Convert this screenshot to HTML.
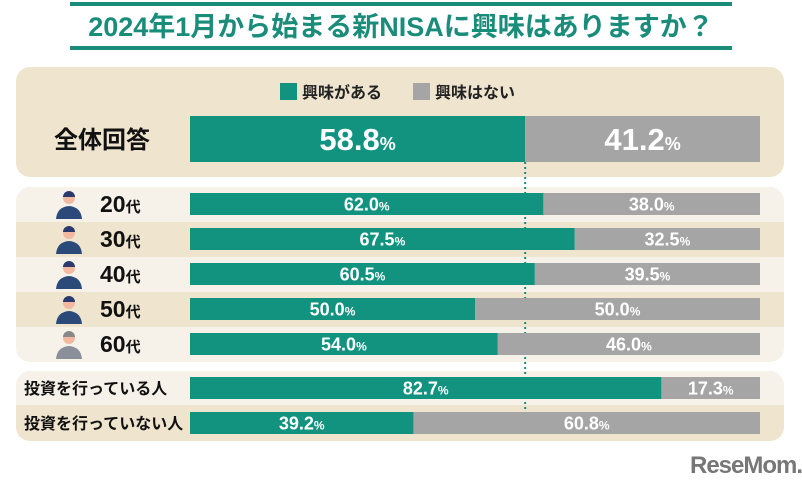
<!DOCTYPE html>
<html><head><meta charset="utf-8">
<style>
body{margin:0;background:#fff;width:802px;height:488px;overflow:hidden;font-family:"Liberation Sans","Noto Sans CJK JP",sans-serif;}
svg text{font-family:"Liberation Sans","Noto Sans CJK JP",sans-serif;font-weight:bold;}
</style></head>
<body>
<svg id="c" width="802" height="488" xmlns="http://www.w3.org/2000/svg">
  <defs>
    <clipPath id="cp"><rect x="16" y="187" width="768" height="175" rx="14"/><rect x="16" y="371" width="768" height="70" rx="14"/></clipPath>
  </defs>
  <rect x="70" y="2" width="662" height="4" fill="#1a8c7a"/>
  <rect x="70" y="46" width="662" height="4" fill="#1a8c7a"/>
  <text x="401" y="36" text-anchor="middle" font-size="27" fill="#1a8c7a">2024年1月から始まる新NISAに興味はありますか？</text>
  <rect x="16" y="67" width="768" height="110" rx="14" fill="#efe5cf"/>
  <rect x="280" y="83" width="17" height="17" fill="#11937f"/>
  <text x="302" y="98" font-size="16" fill="#222">興味がある</text>
  <rect x="413" y="83" width="17" height="17" fill="#a5a5a5"/>
  <text x="435" y="98" font-size="16" fill="#222">興味はない</text>
  <text x="102" y="148" text-anchor="middle" font-size="24" fill="#111">全体回答</text>
  <rect x="16" y="187" width="768" height="175" rx="14" fill="#f6f2ea"/>
  <rect x="16" y="371" width="768" height="70" rx="14" fill="#f6f2ea"/>
  <g id="bands" clip-path="url(#cp)"></g>
  <g id="g"></g>
</svg>
<script>
const categories=["全体回答","20代","30代","40代","50代","60代","投資を行っている人","投資を行っていない人"];
const yesValues=[58.8,62.0,67.5,60.5,50.0,54.0,82.7,39.2];
const noValues=[41.2,38.0,32.5,39.5,50.0,46.0,17.3,60.8];
const x0=190,W=570;
const xs=v=>x0+W*v/100;
const rows=[{y:116,h:46,band:null},{y:193,h:22,band:[187,222,0]},{y:228,h:22,band:[222,257,1]},{y:263,h:22,band:[257,292,0]},{y:298,h:22,band:[292,327,1]},{y:333,h:22,band:[327,362,0]},{y:377,h:22,band:[371,405,0]},{y:412,h:22,band:[405,441,1]}];
const g=document.getElementById('g');
const bands=document.getElementById('bands');
const NS="http://www.w3.org/2000/svg";
function mk(t,a,p){const e=document.createElementNS(NS,t);for(const k in a)e.setAttribute(k,a[k]);(p||g).appendChild(e);return e;}
rows.forEach((r,i)=>{if(r.band&&r.band[2]){const b=mk('rect',{x:16,y:r.band[0],width:768,height:r.band[1]-r.band[0],fill:'#efe5cf'},bands);

}});
const dv=mk('line',{x1:xs(yesValues[0]),x2:xs(yesValues[0]),y1:162,y2:412,stroke:'#1a8c7a','stroke-width':2,'stroke-dasharray':'2,3'});


rows.forEach((r,i)=>{
  const big=i===0;
  const a=mk('rect',{x:x0,y:r.y,width:xs(yesValues[i])-x0,height:r.h,fill:'#11937f'});
  
  
  const b=mk('rect',{x:xs(yesValues[i]),y:r.y,width:W*noValues[i]/100,height:r.h,fill:'#a5a5a5'});
  
  
  const fs=big?31:18, ps=big?18:12, base=r.y+r.h/2+fs*0.36;
  [[yesValues[i],x0,xs(yesValues[i])],[noValues[i],xs(yesValues[i]),x0+W]].forEach((p,j)=>{
    const t=mk('text',{x:(p[1]+p[2])/2,y:base,'text-anchor':'middle','font-size':fs,fill:'#fff'});
    t.innerHTML=p[0].toFixed(1)+'<tspan font-size="'+ps+'">%</tspan>';
    
    
  });
  if(i>=1&&i<=5){
    const l=mk('text',{x:100,y:r.y+r.h/2+8,'font-size':23,fill:'#111'});
    l.innerHTML=categories[i].slice(0,2)+'<tspan font-size="15">代</tspan>';
    
    
    const c=i===5?'#8a8f99':'#2b4a7a';
    const h=mk('circle',{cx:69,cy:r.y+5,r:6,fill:'#f2b9a0'});
    
    
    const hr=mk('path',{d:`M63 ${r.y+4} a6 6 0 0 1 12 0 z`,fill:c==='#8a8f99'?'#888':'#2b3a6a'});
    
    
    const bd=mk('path',{d:`M56 ${r.y+26} q1 -12 13 -13 q12 1 13 13 z`,fill:c});
    
    
  }
  if(i>=6){
    const l=mk('text',{x:24,y:r.y+r.h/2+6,'font-size':16,fill:'#111'});
    l.textContent=categories[i];
    
    
  }
});
</script>
<div style="position:absolute;left:690px;top:452px;font:bold 24px 'Liberation Sans',sans-serif;color:#777;letter-spacing:-1px">ReseMom.</div>
</body></html>
